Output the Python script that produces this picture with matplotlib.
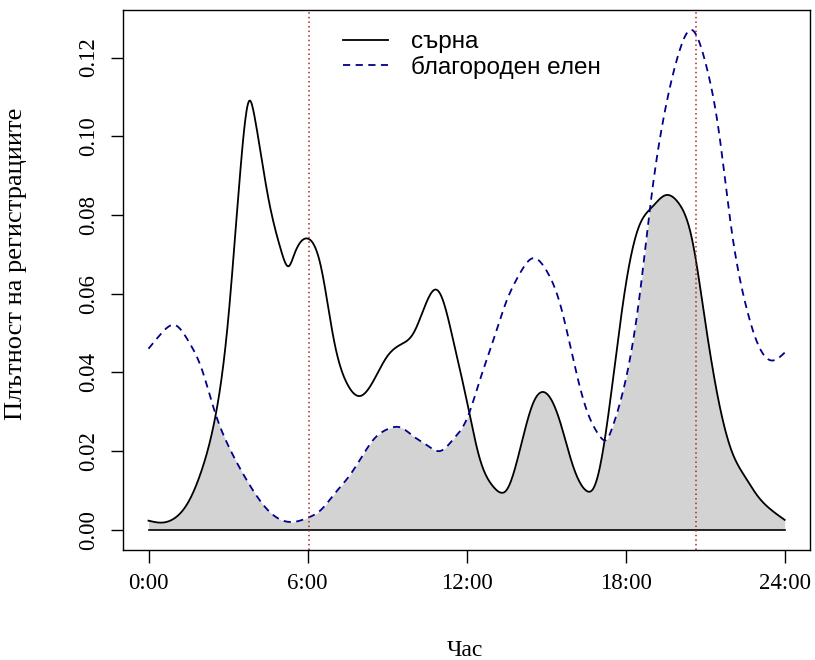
import numpy as np
import matplotlib
matplotlib.use("Agg")
import matplotlib.pyplot as plt

# час (0-24) и плътности, отчетени от графиката
hours = [0, 0.5, 1, 1.5, 2, 2.5, 3, 3.5, 3.8, 4, 4.5, 5, 5.3, 5.5, 6, 6.5, 7, 7.5, 8,
         8.5, 9, 9.5, 10, 10.5, 10.8, 11, 11.5, 12, 12.5, 13, 13.3, 13.5, 14, 14.5,
         14.9, 15.5, 16, 16.5, 16.8, 17, 17.5, 18, 18.5, 19, 19.5, 20, 20.5,
         21, 21.5, 22, 22.5, 23, 23.5, 24]
roe = [0.0023, 0.0018, 0.003, 0.007, 0.015, 0.028, 0.053, 0.094, 0.109, 0.105, 0.085,
       0.071, 0.067, 0.070, 0.074, 0.067, 0.048, 0.037, 0.034, 0.038, 0.044, 0.047,
       0.050, 0.058, 0.061, 0.060, 0.048, 0.033, 0.018, 0.011, 0.0094, 0.010, 0.020,
       0.032, 0.035, 0.028, 0.0165, 0.010, 0.0107, 0.015, 0.037, 0.062, 0.077, 0.082,
       0.085, 0.083, 0.074, 0.053, 0.033, 0.020, 0.0135, 0.0084, 0.005, 0.0025]

hours_red = [0, 0.5, 1, 1.5, 2, 2.5, 3, 3.5, 4, 4.5, 5, 5.5, 6, 6.5, 7, 7.5, 8, 8.5, 9,
             9.5, 10, 10.5, 11, 11.5, 12, 12.5, 13, 13.5, 14, 14.5, 15, 15.5, 16, 16.5,
             17, 17.3, 17.5, 18, 18.5, 19, 19.5, 20, 20.5, 21, 21.5, 22, 22.5, 23, 23.5, 24]
red = [0.046, 0.050, 0.052, 0.048, 0.041, 0.030, 0.0215, 0.015, 0.0094, 0.005, 0.0025,
       0.002, 0.003, 0.005, 0.009, 0.013, 0.018, 0.023, 0.0255, 0.026, 0.0237, 0.0215,
       0.020, 0.023, 0.028, 0.038, 0.048, 0.058, 0.065, 0.069, 0.066, 0.058, 0.044,
       0.031, 0.024, 0.023, 0.026, 0.038, 0.058, 0.086, 0.107, 0.121, 0.127, 0.119,
       0.102, 0.076, 0.058, 0.047, 0.043, 0.045]

vlines = [6.05, 20.67]
xticks = [0, 6, 12, 18, 24]
xticklabels = ["0:00", "6:00", "12:00", "18:00", "24:00"]
yticks = [0.00, 0.02, 0.04, 0.06, 0.08, 0.10, 0.12]


def spline(x, y, xn):
    # естествен кубичен сплайн, само за изглаждане между отчетените точки
    x = np.asarray(x, float)
    y = np.asarray(y, float)
    n = len(x)
    h = np.diff(x)
    A = np.zeros((n, n))
    b = np.zeros(n)
    A[0, 0] = A[-1, -1] = 1
    for i in range(1, n - 1):
        A[i, i - 1] = h[i - 1]
        A[i, i] = 2 * (h[i - 1] + h[i])
        A[i, i + 1] = h[i]
        b[i] = 3 * ((y[i + 1] - y[i]) / h[i] - (y[i] - y[i - 1]) / h[i - 1])
    c = np.linalg.solve(A, b)
    bb = (y[1:] - y[:-1]) / h - h * (2 * c[:-1] + c[1:]) / 3
    d = (c[1:] - c[:-1]) / (3 * h)
    k = np.clip(np.searchsorted(x, xn) - 1, 0, n - 2)
    t = xn - x[k]
    return y[k] + bb[k] * t + c[k] * t ** 2 + d[k] * t ** 3


fig = plt.figure(figsize=(8.15, 6.6), dpi=100)
ax = fig.add_axes([0.151, 0.167, 0.843, 0.818])

grid = np.linspace(0, 24, 961)
roe_s = spline(hours, roe, grid)
red_s = spline(hours_red, red, grid)
ax.fill_between(grid, 0, np.clip(np.minimum(roe_s, red_s), 0, None), color="#d3d3d3", lw=0)

ax.plot([0, 24], [0, 0], color="black", lw=1.2)
ax.plot(grid, roe_s, color="black", lw=1.3, label="сърна")
ax.plot(grid, red_s, color="#00008b", lw=1.3, ls=(0, (4, 3)), label="благороден елен")
for v in vlines:
    ax.axvline(v, color="#a52a2a", lw=1.1, ls=(0, (1, 2)))

ax.set_xlim(-0.96, 24.96)
ax.set_ylim(-0.0051, 0.1321)
ax.set_xticks(xticks)
ax.set_xticklabels(xticklabels, family="Liberation Serif", fontsize=16.5)
ax.set_yticks(yticks)
ax.set_yticklabels(["%.2f" % t for t in yticks], family="Liberation Serif",
                   fontsize=16.5, rotation=90, va="center")
ax.tick_params(length=9, width=1, pad=8)
for s in ax.spines.values():
    s.set_linewidth(1)

ax.set_xlabel("Час", family="Liberation Serif", fontsize=17)
ax.xaxis.set_label_coords(0.497, -0.167)
ax.set_ylabel("Плътност на регистрациите", family="Liberation Serif", fontsize=19)
ax.yaxis.set_label_coords(-0.14, 0.53)

ax.legend(loc="upper left", bbox_to_anchor=(0.421, 0.953), bbox_transform=fig.transFigure,
          frameon=False, borderpad=0, borderaxespad=0,
          prop={"family": "Liberation Sans", "size": 17.5}, handlelength=1.85,
          handletextpad=0.95, labelspacing=0.1)

fig.savefig("out.png", dpi=100)
